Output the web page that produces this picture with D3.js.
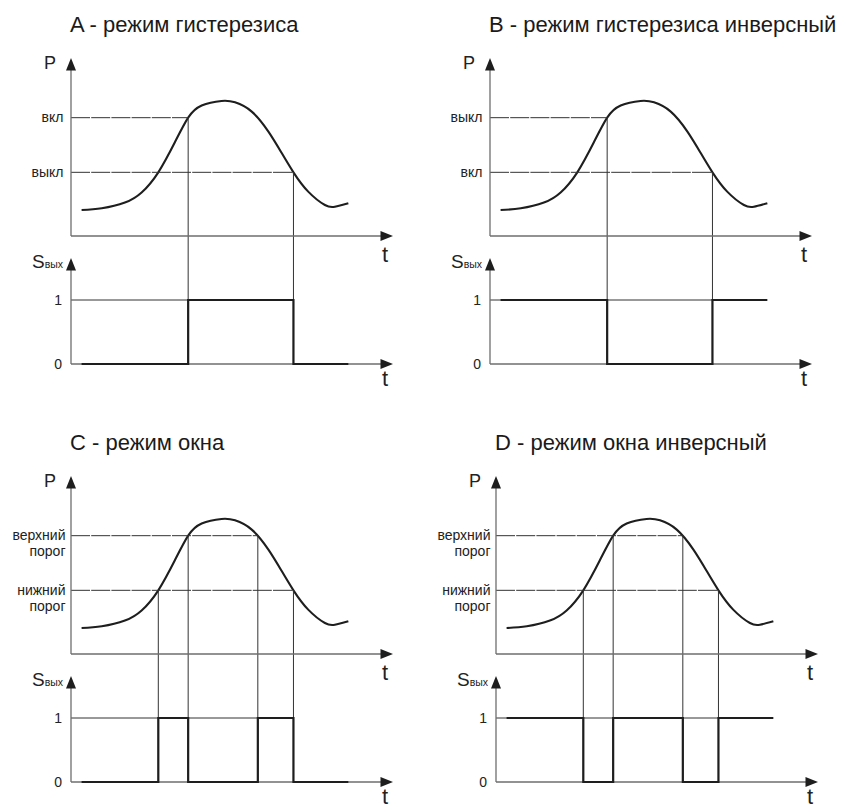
<!DOCTYPE html>
<html>
<head>
<meta charset="utf-8">
<script src="https://cdn.jsdelivr.net/npm/d3@7"></script>
<style>
  html, body { margin: 0; padding: 0; background: #fff; }
  svg { display: block; font-family: Arial, "Liberation Sans", sans-serif; }
</style>
</head>
<body>
<svg id="chart" width="850" height="809"></svg>
<script>
// ---------- data ----------
const panelTitles = ["A - режим гистерезиса", "B - режим гистерезиса инверсный", "C - режим окна", "D - режим окна инверсный"];
// input signal P(t): t in 0..100, P in 0..100 (axis units)
const curveT = [3.3, 9.6, 16.8, 22.0, 27.2, 32.4, 36.5, 40.7, 46.9, 51.1, 56.3, 61.5, 65.6, 69.3, 73.9, 79.1, 82.2, 86.4];
const curveP = [14.9, 15.9, 19.2, 25.0, 36.6, 54.0, 68.0, 75.0, 77.6, 76.8, 71.5, 60.0, 47.8, 36.6, 25.5, 17.8, 16.8, 18.8];
// thresholds: upper, lower
const thresholdP = [68.0, 36.6];
const labelsA = ["вкл", "выкл"];
const labelsB = ["выкл", "вкл"];
const labelsC = ["верхний|порог", "нижний|порог"];
const labelsD = ["верхний|порог", "нижний|порог"];
// crossings used as switching edges: [threshold index, direction]
const edgesHyst = [[0, "rise"], [1, "fall"]];
const edgesWin = [[1, "rise"], [0, "rise"], [0, "fall"], [1, "fall"]];
// output levels between edges
const levelsA = [0, 1, 0];
const levelsB = [1, 0, 1];
const levelsC = [0, 1, 0, 1, 0];
const levelsD = [1, 0, 1, 0, 1];
const outTicks = ["0", "1"];

// ---------- layout ----------
const panels = [
  { title: panelTitles[0], labels: labelsA, edges: edgesHyst, levels: levelsA, ox: 0, oy: 0, lblGap: 7.5 },
  { title: panelTitles[1], labels: labelsB, edges: edgesHyst, levels: levelsB, ox: 419, oy: 0, lblGap: 7.5 },
  { title: panelTitles[2], labels: labelsC, edges: edgesWin, levels: levelsC, ox: 0, oy: 418, lblGap: 5.5 },
  { title: panelTitles[3], labels: labelsD, edges: edgesWin, levels: levelsD, ox: 425, oy: 418, lblGap: 5.5 }
];

const svg = d3.select("#chart");
const AX = 71, AXEND = 393, TOPY = 236, TOPTIP = 58, BOTY = 364, ONEY = 300, BOTTIP = 258;
const axisColor = "#6e6e6e", inkColor = "#1e1e1e", textColor = "#222";

function arrowUp(g, x, tipY) {
  g.append("path").attr("d", `M${x},${tipY} L${x - 5},${tipY + 12.5} L${x + 5},${tipY + 12.5} Z`).attr("fill", inkColor);
}
function arrowRight(g, tipX, y) {
  g.append("path").attr("d", `M${tipX},${y} L${tipX - 12.5},${y - 5} L${tipX - 12.5},${y + 5} Z`).attr("fill", inkColor);
}

const pts = curveT.map((t, i) => ({ t, p: curveP[i] }));

panels.forEach(pn => {
  const g = svg.append("g").attr("transform", `translate(${pn.ox},${pn.oy})`);
  const x = d3.scaleLinear().domain([0, 100]).range([AX, AX + 321]);
  const y = d3.scaleLinear().domain([0, 100]).range([TOPY, TOPY - 174]);
  const yo = d3.scaleLinear().domain([0, 1]).range([BOTY, ONEY]);

  // title
  g.append("text").attr("x", 70).attr("y", 32).attr("font-size", 22).attr("fill", "#1a1a1a").text(pn.title);

  // curve
  const line = d3.line().x(d => x(d.t)).y(d => y(d.p)).curve(d3.curveNatural);
  const curvePath = g.append("path").datum(pts).attr("d", line).attr("fill", "none")
    .attr("stroke", inkColor).attr("stroke-width", 2.1);

  // find crossings of thresholds on rendered curve
  const node = curvePath.node();
  const L = node.getTotalLength();
  const samples = [];
  for (let s = 0; s <= L; s += 0.25) samples.push(node.getPointAtLength(s));
  function crossing(ti, dir) {
    const ty = y(thresholdP[ti]);
    for (let i = 1; i < samples.length; i++) {
      const a = samples[i - 1], b = samples[i];
      if (dir === "rise" && a.y >= ty && b.y < ty) return a.x + (b.x - a.x) * (a.y - ty) / (a.y - b.y);
      if (dir === "fall" && a.y <= ty && b.y > ty) return a.x + (b.x - a.x) * (ty - a.y) / (b.y - a.y);
    }
    return null;
  }
  const edgeX = pn.edges.map(([ti, dir]) => crossing(ti, dir));

  // horizontal threshold guides (axis to last crossing of that threshold)
  thresholdP.forEach((tp, ti) => {
    const xs = pn.edges.map((e, k) => e[0] === ti ? edgeX[k] : null).filter(v => v !== null);
    const xEnd = d3.max(xs);
    g.append("line").attr("x1", AX).attr("x2", xEnd).attr("y1", y(tp)).attr("y2", y(tp))
      .attr("stroke", "#333").attr("stroke-width", 1).attr("stroke-dasharray", "19,1.2");
    const parts = pn.labels[ti].split("|");
    const t = g.append("text").attr("text-anchor", "end").attr("font-size", 14).attr("fill", textColor);
    parts.forEach((pt, k) => {
      t.append("tspan").attr("x", AX - pn.lblGap).attr("y", y(tp) + 4.5 + k * 16).text(pt);
    });
  });

  // vertical guides from curve crossing down to output 0 level
  pn.edges.forEach(([ti], k) => {
    g.append("line").attr("x1", edgeX[k]).attr("x2", edgeX[k]).attr("y1", y(thresholdP[ti])).attr("y2", yo(0))
      .attr("stroke", "#333").attr("stroke-width", 1);
  });

  // output "1" guide from axis to last edge
  g.append("line").attr("x1", AX).attr("x2", d3.max(edgeX)).attr("y1", yo(1)).attr("y2", yo(1))
    .attr("stroke", "#333").attr("stroke-width", 1);

  // axes: top
  g.append("line").attr("x1", AX).attr("x2", AX).attr("y1", TOPY).attr("y2", TOPTIP + 10).attr("stroke", axisColor).attr("stroke-width", 1.3);
  g.append("line").attr("x1", AX).attr("x2", AXEND - 10).attr("y1", TOPY).attr("y2", TOPY).attr("stroke", axisColor).attr("stroke-width", 1.3);
  arrowUp(g, AX, TOPTIP);
  arrowRight(g, AXEND, TOPY);
  // axes: bottom
  g.append("line").attr("x1", AX).attr("x2", AX).attr("y1", BOTY).attr("y2", BOTTIP + 10).attr("stroke", axisColor).attr("stroke-width", 1.3);
  g.append("line").attr("x1", AX).attr("x2", AXEND - 10).attr("y1", BOTY).attr("y2", BOTY).attr("stroke", axisColor).attr("stroke-width", 1.3);
  arrowUp(g, AX, BOTTIP);
  arrowRight(g, AXEND, BOTY);

  // output signal
  const tStart = x(curveT[0]), tEnd = x(curveT[curveT.length - 1]);
  const bounds = [tStart, ...edgeX, tEnd];
  const sig = [];
  pn.levels.forEach((lv, i) => {
    sig.push([bounds[i], yo(lv)]);
    sig.push([bounds[i + 1], yo(lv)]);
  });
  g.append("path").attr("d", d3.line()(sig)).attr("fill", "none").attr("stroke", inkColor)
    .attr("stroke-width", 2.2).attr("stroke-linejoin", "miter");

  // axis labels
  g.append("text").attr("x", 56).attr("y", 69).attr("text-anchor", "end").attr("font-size", 18).attr("fill", textColor).text("P");
  g.append("text").attr("x", 385).attr("y", 262).attr("text-anchor", "middle").attr("font-size", 22).attr("fill", textColor).text("t");
  g.append("text").attr("x", 385).attr("y", 386).attr("text-anchor", "middle").attr("font-size", 22).attr("fill", textColor).text("t");
  const s = g.append("text").attr("x", 63).attr("y", 268).attr("text-anchor", "end").attr("fill", textColor);
  s.append("tspan").attr("font-size", 19).text("S");
  s.append("tspan").attr("font-size", 10.5).text("вых");
  outTicks.forEach((tk, i) => {
    g.append("text").attr("x", 62).attr("y", yo(i) + 5).attr("text-anchor", "end").attr("font-size", 14).attr("fill", textColor).text(tk);
  });
});
</script>
</body>
</html>
